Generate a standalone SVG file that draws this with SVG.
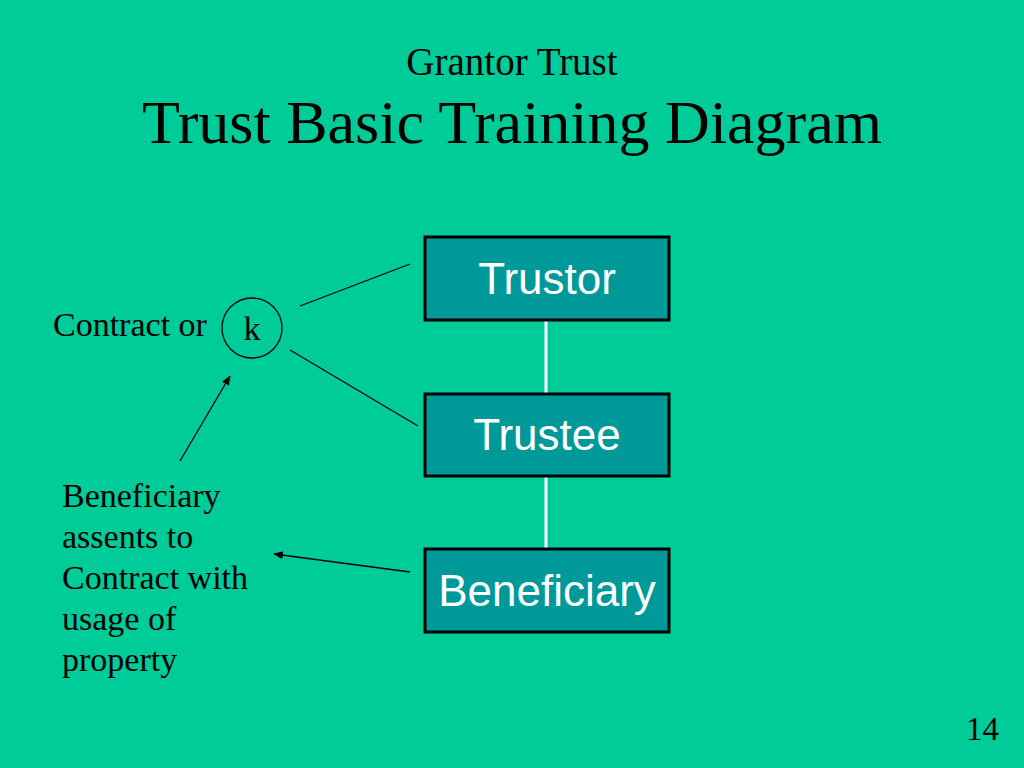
<svg xmlns="http://www.w3.org/2000/svg" width="1024" height="768" viewBox="0 0 1024 768">
<defs>
<style>
.serif{font-family:"Liberation Serif","Times New Roman",serif;fill:#000}
.box{fill:#009999;stroke:#000;stroke-width:3}
.lbl{font-family:"Liberation Sans",Arial,sans-serif;font-size:44px;fill:#fff;text-anchor:middle}
.ln{stroke:#000;stroke-width:1.3;fill:none}
.wl{stroke:#fff;stroke-width:3}
</style>
<marker id="ah" viewBox="0 0 10 10" refX="9" refY="5" markerWidth="10" markerHeight="10" markerUnits="userSpaceOnUse" orient="auto">
<path d="M0,1 L10,5 L0,9 z" fill="#000"/>
</marker>
</defs>
<rect width="1024" height="768" fill="#00CC99"/>
<text class="serif" x="512" y="75" font-size="39" text-anchor="middle">Grantor Trust</text>
<text class="serif" x="512" y="143" font-size="62" text-anchor="middle">Trust Basic Training Diagram</text>
<g id="connectors">
<line class="wl" x1="546" y1="320" x2="546" y2="394"/>
<line class="wl" x1="546" y1="476" x2="546" y2="549"/>
<line class="ln" x1="300" y1="306" x2="410" y2="264"/>
<line class="ln" x1="290" y1="350" x2="418" y2="426"/>
<line class="ln" x1="180" y1="461" x2="230" y2="376" marker-end="url(#ah)"/>
<line class="ln" x1="410" y1="572" x2="274" y2="554" marker-end="url(#ah)"/>
</g>
<g id="trustor">
<rect class="box" x="425" y="237" width="244" height="83"/>
<text class="lbl" x="547" y="294">Trustor</text>
</g>
<g id="trustee">
<rect class="box" x="425" y="394" width="244" height="82"/>
<text class="lbl" x="547" y="450">Trustee</text>
</g>
<g id="beneficiary">
<rect class="box" x="425" y="549" width="244" height="83"/>
<text class="lbl" x="547" y="606">Beneficiary</text>
</g>
<g id="k">
<circle cx="252" cy="328" r="30" fill="none" stroke="#000" stroke-width="1.3"/>
<text class="serif" x="252" y="340" font-size="34" text-anchor="middle">k</text>
</g>
<text class="serif" x="53" y="336" font-size="34">Contract or</text>
<g class="serif" font-size="34">
<text x="62" y="507">Beneficiary</text>
<text x="62" y="548">assents to</text>
<text x="62" y="589">Contract with</text>
<text x="62" y="630">usage of</text>
<text x="62" y="671">property</text>
</g>
<text class="serif" x="966" y="740" font-size="33">14</text>
</svg>
